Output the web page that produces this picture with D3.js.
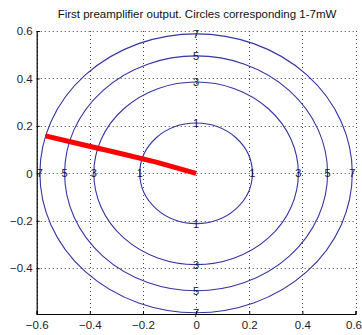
<!doctype html>
<html>
<head>
    <meta charset="UTF-8">
    <title>preamp</title>
    <script src="https://d3js.org/d3.v7.min.js"></script>
    <style>
        body{ margin:0; background:#fff; }
        text{ font-family: "Liberation Sans", Arial, sans-serif; }
    </style>
</head>
<body>
   <script>
       // circle power levels (mW) and their radii
       var powers = [1, 3, 5, 7];
       var radii = [0.212, 0.385, 0.495, 0.588];
       // red trace (x, y)
       var traceX = [-0.567, -0.45, -0.3, -0.15, 0];
       var traceY = [0.158, 0.127, 0.088, 0.047, 0];
       var xTicks = [-0.6, -0.4, -0.2, 0, 0.2, 0.4, 0.6];
       var yTicks = [-0.4, -0.2, 0, 0.2, 0.4, 0.6];

       var svg = d3.select("body").append("svg")
            .attr("width", 362)
            .attr("height", 335);

       var x = d3.scaleLinear().domain([-0.6, 0.6]).range([36.7, 355.5]);
       var y = d3.scaleLinear().domain([-0.593, 0.6]).range([314, 31]);

       // title
       svg.append("text")
        .attr("x", 197).attr("y", 18)
        .attr("text-anchor", "middle")
        .attr("font-size", 11.5)
        .attr("fill", "#111")
        .text("First preamplifier output. Circles corresponding 1-7mW");

       // grid
       var grid = svg.append("g").attr("stroke", "#444").attr("stroke-dasharray", "1,3").attr("stroke-width", 1);
       xTicks.forEach(function(t){
           grid.append("line").attr("x1", Math.round(x(t))+0.5).attr("x2", Math.round(x(t))+0.5)
               .attr("y1", y(0.6)).attr("y2", 314);
       });
       yTicks.forEach(function(t){
           grid.append("line").attr("y1", Math.round(y(t))+0.5).attr("y2", Math.round(y(t))+0.5)
               .attr("x1", 36.7).attr("x2", 355.5);
       });

       // circles
       svg.selectAll("ellipse.c").data(radii).enter().append("ellipse")
        .attr("cx", x(0)).attr("cy", y(0))
        .attr("rx", function(r){ return x(r) - x(0); })
        .attr("ry", function(r){ return y(0) - y(r); })
        .attr("fill", "none")
        .attr("stroke", "#3535a5")
        .attr("stroke-width", 1.1);

       // red trace
       var line = d3.line().x(function(d){ return x(d[0]); }).y(function(d){ return y(d[1]); });
       svg.append("path")
        .attr("d", line(d3.zip(traceX, traceY)))
        .attr("fill", "none")
        .attr("stroke", "#ff0000")
        .attr("stroke-width", 5);

       // circle labels
       var lab = svg.append("g").attr("font-size", 11).attr("fill", "#14143a")
            .attr("text-anchor", "middle");
       powers.forEach(function(p, i){
           var r = radii[i];
           [[0, r], [0, -r], [-r, 0], [r, 0]].forEach(function(pt){
               lab.append("text")
                .attr("x", x(pt[0])).attr("y", y(pt[1]) + 4)
                .text(p);
           });
       });

       // axes
       var ax = svg.append("g").attr("transform", "translate(0,314)")
            .call(d3.axisBottom(x).tickValues(xTicks).tickSize(-3).tickPadding(7).tickFormat(d3.format("")));
       var ay = svg.append("g").attr("transform", "translate(36.7,0)")
            .call(d3.axisLeft(y).tickValues(yTicks).tickSize(-3).tickPadding(4).tickFormat(d3.format("")));
       [ax, ay].forEach(function(a){
           a.select(".domain").attr("stroke", "#000").attr("stroke-width", 1.2);
           a.selectAll("line").attr("stroke", "#000");
           a.selectAll("text").attr("font-size", 11.5).attr("fill", "#222")
            .attr("font-family", "Liberation Sans, Arial, sans-serif");
       });
       // keep the last x label inside the window
       ax.selectAll(".tick text").filter(function(d){ return d === 0.6; })
        .attr("text-anchor", "end").attr("x", 6);
   </script>
</body>
</html>
